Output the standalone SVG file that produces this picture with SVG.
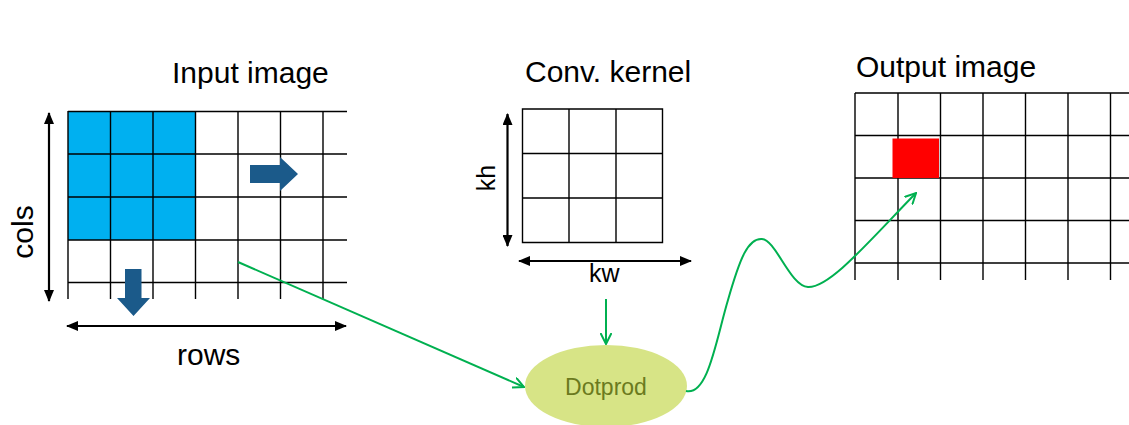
<svg xmlns="http://www.w3.org/2000/svg" width="1129" height="425" viewBox="0 0 1129 425">
<style>
.t{font-family:"Liberation Sans",Arial,sans-serif;fill:#000}
.g{stroke:#000;stroke-width:1.4;fill:none}
.dim{stroke:#000;stroke-width:2.2;fill:none;marker-start:url(#bk);marker-end:url(#bk)}
.gr{stroke:#00B050;stroke-width:2;fill:none;marker-end:url(#ga)}
.mv{fill:#1B5A8A}
</style>
<defs>
<marker id="bk" viewBox="0 0 12 10" refX="11" refY="5" markerWidth="12" markerHeight="10" markerUnits="userSpaceOnUse" orient="auto-start-reverse">
<path d="M0,0 L12,5 L0,10 Z" fill="#000"/>
</marker>
<marker id="ga" viewBox="0 0 12 12" refX="11" refY="6" markerWidth="12" markerHeight="12" markerUnits="userSpaceOnUse" orient="auto">
<path d="M0,0.5 L11,6 L0,11.5" fill="none" stroke="#00B050" stroke-width="2"/>
</marker>
</defs>
<rect width="1129" height="425" fill="#fff"/>

<g id="input-image">
<rect x="68" y="111" width="128" height="129" fill="#00B0F0"/>
<path class="g" d="M68,111.5H347M68,154H347M68,197H347M68,240H347M68,282.5H347
M68,111V299M110.5,111V299M153,111V299M195.5,111V299M238,111V299M280.5,111V299M323,111V299"/>
<path class="mv" d="M250,165H280V157L298,174L280,191V183H250Z"/>
<path class="mv" d="M125,269H141.5V298H150L133.5,316L117,298H125Z"/>
<text class="t" x="172" y="83" font-size="30">Input image</text>
<line class="dim" x1="49" y1="113" x2="49" y2="301"/>
<text class="t" font-size="30" text-anchor="middle" transform="translate(33,232) rotate(-90)">cols</text>
<line class="dim" x1="67" y1="326" x2="346" y2="326"/>
<text class="t" x="177" y="365" font-size="30">rows</text>
</g>

<g id="conv-kernel">
<path class="g" d="M522.5,109H662.5V242.5H522.5ZM569,109V242.5M616,109V242.5M522.5,153.5H662.5M522.5,198H662.5"/>
<text class="t" x="525" y="82" font-size="30">Conv. kernel</text>
<line class="dim" x1="507.5" y1="114" x2="507.5" y2="246"/>
<text class="t" font-size="25" text-anchor="middle" transform="translate(495,178) rotate(-90)">kh</text>
<line class="dim" x1="519" y1="261" x2="691" y2="261"/>
<text class="t" x="589" y="282" font-size="25">kw</text>
</g>

<g id="output-image">
<path class="g" d="M855,93H1129M855,135.5H1129M855,178H1129M855,220.5H1129M855,263H1129
M855,93V280M898,93V280M940.5,93V280M983,93V280M1025.5,93V280M1068,93V280M1110.5,93V280"/>
<rect x="892.5" y="138.5" width="46.5" height="39.5" fill="#FF0000"/>
<text class="t" x="856" y="77" font-size="30">Output image</text>
</g>

<g id="dotprod">
<ellipse cx="606" cy="386" rx="81" ry="41" fill="#D7E486"/>
<text x="606" y="395" font-size="23" text-anchor="middle" font-family="Liberation Sans, Arial, sans-serif" fill="#6B7A1E">Dotprod</text>
</g>

<g id="connectors">
<line class="gr" x1="238" y1="262" x2="524" y2="387"/>
<line class="gr" x1="606" y1="299" x2="606" y2="344"/>
<path class="gr" d="M686,391 C708,396 716,340 728,300 C740,258 748,238 762,239 C776,240 790,286 808,287 C830,288 870,240 916,193"/>
</g>
</svg>
